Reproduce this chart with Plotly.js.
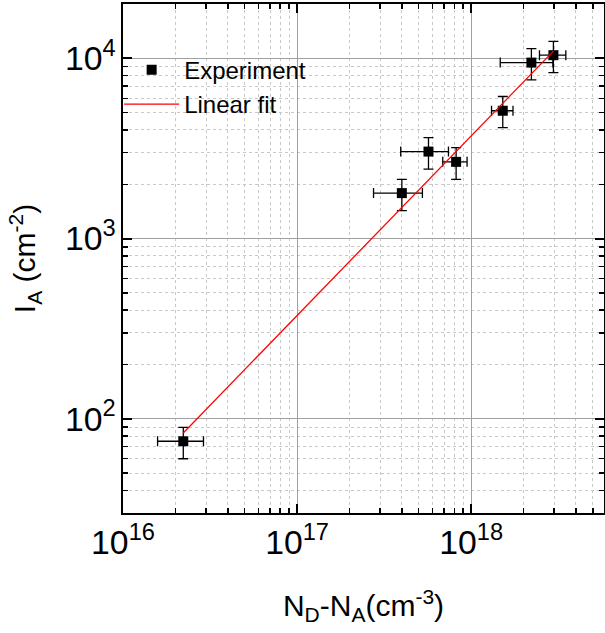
<!DOCTYPE html>
<html>
<head>
<meta charset="utf-8">
<script src="https://cdn.plot.ly/plotly-3.0.1.min.js"></script>
<style>html,body{margin:0;padding:0;background:#fff;}#plot{width:605px;height:633px;}</style>
</head>
<body>
<div id="plot"></div>
<script>
// Experimental data
const dopingX = [2.22e16, 4.0e17, 5.69e17, 8.2e17, 1.52e18, 2.22e18, 2.97e18];
const intensityY = [75, 1786, 3036, 2662, 5114, 9460, 10400];
const yErrPlus = [14.6, 341, 594, 531, 1021, 1840, 2000];
const yErrMinus = [15, 358, 612, 535, 994, 1870, 2080];
const xErrPlus = [0.68e16, 1.25e17, 1.72e17, 1.28e17, 0.22e18, 0.73e18, 0.53e18];
const xErrMinus = [0.64e16, 1.25e17, 1.75e17, 1.33e17, 0.21e18, 0.75e18, 0.50e18];
// Linear fit (log-log) endpoints
const fitX = [2.22e16, 2.97e18];
const fitY = [83.4, 10960];

const font = 'Liberation Sans, Arial, sans-serif';

const traces = [
  {
    x: dopingX, y: intensityY, type: 'scatter', mode: 'markers', name: 'Experiment',
    marker: {symbol: 'square', size: 10, color: '#000'},
    error_y: {type: 'data', symmetric: false, array: yErrPlus, arrayminus: yErrMinus, color: '#000', thickness: 1.3, width: 5},
    error_x: {type: 'data', symmetric: false, array: xErrPlus, arrayminus: xErrMinus, color: '#000', thickness: 1.3, width: 5}
  },
  {
    x: fitX, y: fitY, type: 'scatter', mode: 'lines', name: 'Linear fit',
    line: {color: '#ff0000', width: 1.3}
  }
];

const axisCommon = {
  type: 'log', showline: true, linecolor: '#000', linewidth: 2, mirror: 'ticks',
  ticks: 'inside', ticklen: 9, tickwidth: 2, tickcolor: '#000',
  showgrid: true, gridcolor: '#a0a0a0', gridwidth: 1,
  zeroline: false, exponentformat: 'power', dtick: 1,
  tickfont: {family: font, size: 27, color: '#000'},
  minor: {ticks: 'inside', ticklen: 5, tickwidth: 1.5, tickcolor: '#000', showgrid: true, gridcolor: '#c8c8c8', griddash: 'dot', gridwidth: 1}
};

const layout = {
  width: 605, height: 633,
  margin: {l: 123, r: 1, t: 4, b: 120},
  paper_bgcolor: '#fff', plot_bgcolor: '#fff',
  showlegend: true,
  legend: {x: -0.008, y: 0.914, xanchor: 'left', yanchor: 'top', bgcolor: 'rgba(0,0,0,0)', borderwidth: 0,
    itemwidth: 55, font: {family: font, size: 24, color: '#000'}, tracegroupgap: 0},
  xaxis: Object.assign({}, axisCommon, {
    range: [16, Math.log10(5.8e18)],
    title: {text: 'N<sub>D</sub>-N<sub>A</sub>(cm<sup>-3</sup>)', font: {family: font, size: 30, color: '#000'}, standoff: 35}
  }),
  yaxis: Object.assign({}, axisCommon, {
    range: [Math.log10(30), Math.log10(20000)],
    title: {text: 'I<sub>A</sub> (cm<sup>-2</sup>)', font: {family: font, size: 30, color: '#000'}, standoff: 20}
  })
};

Plotly.newPlot('plot', traces, layout, {displayModeBar: false, staticPlot: true});
</script>
</body>
</html>
